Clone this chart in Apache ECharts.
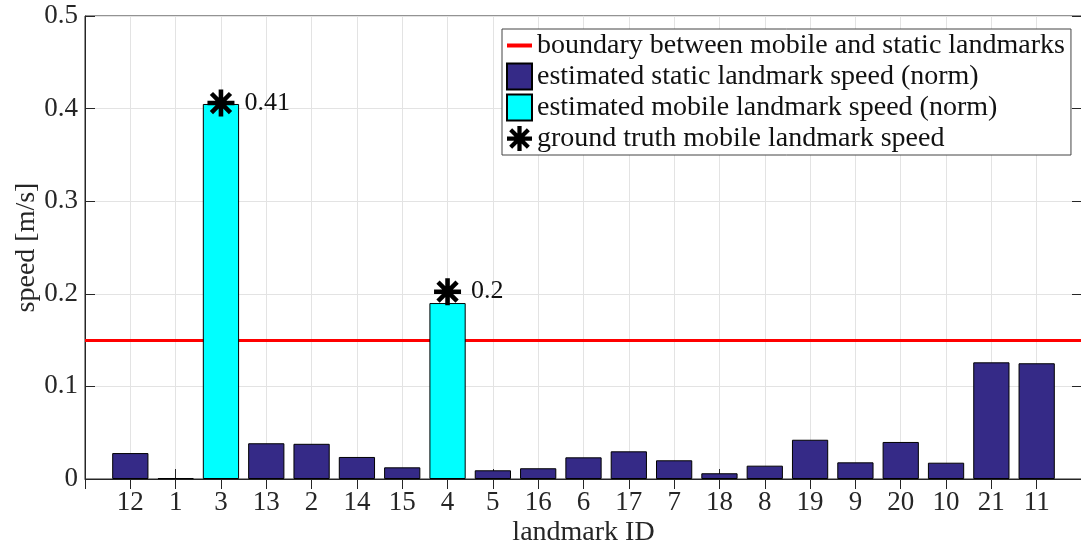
<!DOCTYPE html>
<html>
<head>
<meta charset="utf-8">
<title>Landmark speed</title>
<script src="https://cdn.jsdelivr.net/npm/echarts@6/dist/echarts.min.js"></script>
<style>
  html, body { margin: 0; padding: 0; background: #ffffff; }
  #chart { width: 1081px; height: 546px; }
</style>
</head>
<body>
<div id="chart"></div>
<script>
// Landmark IDs in plotting order
const categories = ['12', '1', '3', '13', '2', '14', '15', '4', '5', '16', '6',
                    '17', '7', '18', '8', '19', '9', '20', '10', '21', '11'];
// Estimated speed norm of landmarks classified as static [m/s]
const staticSpeed = [0.028, 0.001, null, 0.0386, 0.038, 0.0238, 0.0126, null, 0.0094, 0.0116, 0.0234,
                     0.0299, 0.0202, 0.0062, 0.0144, 0.0424, 0.018, 0.040, 0.0176, 0.126, 0.125];
// Estimated speed norm of landmarks classified as mobile [m/s]
const mobileSpeed = [null, null, 0.405, null, null, null, null, 0.190, null, null, null,
                     null, null, null, null, null, null, null, null, null, null];
// Ground-truth speed of the mobile landmarks [m/s]
const truthSpeed = [null, null, 0.406, null, null, null, null, 0.2023, null, null, null,
                    null, null, null, null, null, null, null, null, null, null];
// Classification threshold [m/s]
const THRESHOLD = 0.15;
const yTicks = { min: 0, max: 0.5, step: 0.1 };

const TEXT = '#262626';
const FONT = "'Liberation Serif', 'Times New Roman', serif";

// Empty slots on both ends leave one unit of margin, like xlim [0, n+1]
const pad = arr => [null].concat(arr, [null]);
const axisCats = [''].concat(categories, ['']);

// Asterisk marker built from four bars (0, 45, 90, 135 degrees)
const starPath = (() => {
  const w = 0.17;
  let d = '';
  [0, 45, 90, 135].forEach(deg => {
    const a = deg * Math.PI / 180, c = Math.cos(a), s = Math.sin(a);
    const nx = -s * w, ny = c * w;
    const pts = [[-c - nx, -s - ny], [c - nx, s - ny], [c + nx, s + ny], [-c + nx, -s + ny]];
    d += 'M' + pts.map(p => p[0].toFixed(3) + ' ' + p[1].toFixed(3)).join(' L') + ' Z ';
  });
  return 'path://' + d;
})();

const chart = echarts.init(document.getElementById('chart'), null, { renderer: 'canvas' });

const option = {
  animation: false,
  backgroundColor: '#ffffff',
  textStyle: { fontFamily: FONT, color: TEXT },
  grid: {
    left: 85, right: -1, top: 16, bottom: 67,
    outerBoundsMode: 'none',
    containLabel: false,
    show: true, borderColor: TEXT, borderWidth: 1, backgroundColor: '#ffffff'
  },
  legend: {
    orient: 'vertical',
    left: 502, top: 29,
    padding: [1, 6, 1, 3],
    itemGap: 0,
    itemWidth: 25, itemHeight: 26,
    backgroundColor: '#ffffff',
    borderColor: '#444444', borderWidth: 1,
    textStyle: { fontFamily: FONT, fontSize: 28, color: '#111111', lineHeight: 31 },
    data: [
      {
        name: 'boundary between mobile and static landmarks',
        itemStyle: { opacity: 0 },
        lineStyle: { color: '#ff0000', width: 4 }
      },
      { name: 'estimated static landmark speed (norm)', icon: 'rect' },
      { name: 'estimated mobile landmark speed (norm)', icon: 'rect' },
      'ground truth mobile landmark speed'
    ]
  },
  xAxis: [
    {
      type: 'category', data: axisCats, boundaryGap: false, position: 'bottom',
      name: 'landmark ID', nameLocation: 'middle', nameGap: 40, nameMoveOverlap: false,
      nameTextStyle: { fontFamily: FONT, fontSize: 28, color: TEXT },
      axisLine: { show: true, lineStyle: { color: TEXT, width: 1 } },
      axisTick: { show: true, inside: true, length: 10, lineStyle: { color: TEXT } },
      axisLabel: { fontFamily: FONT, fontSize: 27, color: TEXT, margin: 10, interval: 0 },
      splitLine: { show: true, lineStyle: { color: '#e3e3e3', width: 1 } }
    },
    {
      type: 'category', data: axisCats, boundaryGap: false, position: 'top',
      axisLine: { show: false },
      axisTick: { show: true, inside: true, length: 10, lineStyle: { color: TEXT } },
      axisLabel: { show: false },
      splitLine: { show: false }
    }
  ],
  yAxis: [
    {
      type: 'value', min: yTicks.min, max: yTicks.max, interval: yTicks.step, position: 'left',
      name: 'speed [m/s]', nameLocation: 'middle', nameGap: 44, nameRotate: 90, nameMoveOverlap: false,
      nameTextStyle: { fontFamily: FONT, fontSize: 28, color: TEXT },
      axisLine: { show: true, lineStyle: { color: TEXT, width: 1 } },
      axisTick: { show: true, inside: true, length: 10, lineStyle: { color: TEXT } },
      axisLabel: { fontFamily: FONT, fontSize: 27, color: TEXT, margin: 7 },
      splitLine: { show: true, lineStyle: { color: '#e3e3e3', width: 1 } }
    },
    {
      type: 'value', min: yTicks.min, max: yTicks.max, interval: yTicks.step, position: 'right',
      axisLine: { show: false },
      axisTick: { show: true, inside: true, length: 10, lineStyle: { color: TEXT } },
      axisLabel: { show: false },
      splitLine: { show: false }
    }
  ],
  series: [
    {
      name: 'boundary between mobile and static landmarks',
      type: 'line',
      data: [],
      symbol: 'none',
      z: 1,
      itemStyle: { color: '#ff0000' },
      lineStyle: { color: '#ff0000', width: 3 },
      markLine: {
        silent: true,
        z: 1,
        symbol: 'none',
        label: { show: false },
        lineStyle: { color: '#ff0000', width: 3, type: 'solid' },
        data: [{ yAxis: THRESHOLD }]
      }
    },
    {
      name: 'estimated static landmark speed (norm)',
      type: 'bar',
      stack: 'speed',
      barWidth: '80%',
      z: 2,
      data: pad(staticSpeed),
      itemStyle: { color: '#352a87', borderColor: '#000000', borderWidth: 1 }
    },
    {
      name: 'estimated mobile landmark speed (norm)',
      type: 'bar',
      stack: 'speed',
      barWidth: '80%',
      z: 2,
      data: pad(mobileSpeed),
      itemStyle: { color: '#00ffff', borderColor: '#000000', borderWidth: 1 }
    },
    {
      name: 'ground truth mobile landmark speed',
      type: 'scatter',
      symbol: starPath,
      symbolSize: 27,
      z: 3,
      data: pad(truthSpeed),
      itemStyle: { color: '#000000', opacity: 1 },
      label: {
        show: true,
        position: 'right',
        distance: 10,
        fontFamily: FONT,
        fontSize: 26,
        color: '#111111',
        formatter: p => String(Math.round(p.value * 100) / 100)
      }
    }
  ]
};

chart.setOption(option);
</script>
</body>
</html>
